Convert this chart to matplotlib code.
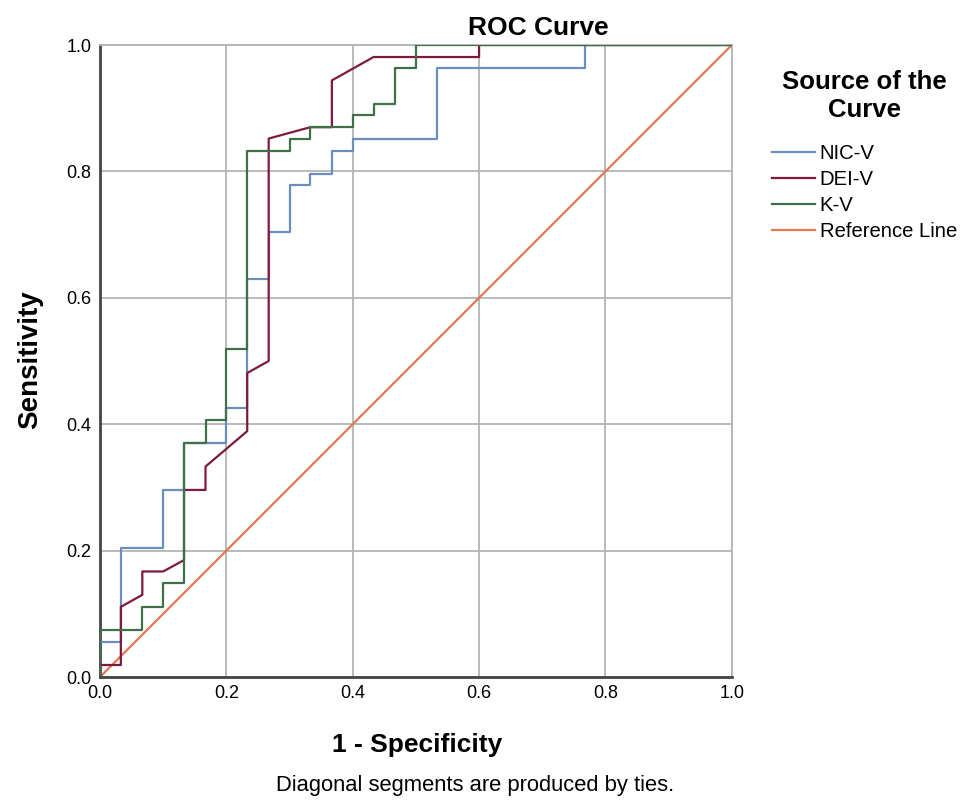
import matplotlib.pyplot as plt

plt.rcParams['font.family'] = ['Liberation Sans', 'DejaVu Sans']

# ROC curve vertices (1 - specificity, sensitivity)
nic_x = [0.0, 0.0, 0.033, 0.033, 0.1, 0.1, 0.133, 0.133, 0.2, 0.2, 0.233, 0.233,
         0.267, 0.267, 0.3, 0.3, 0.333, 0.333, 0.367, 0.367, 0.4, 0.4, 0.533,
         0.533, 0.767, 0.767, 1.0]
nic_y = [0.0, 0.056, 0.056, 0.204, 0.204, 0.296, 0.296, 0.37, 0.37, 0.426, 0.426, 0.63,
         0.63, 0.704, 0.704, 0.778, 0.778, 0.796, 0.796, 0.833, 0.833, 0.852, 0.852,
         0.963, 0.963, 1.0, 1.0]

dei_x = [0.0, 0.0, 0.033, 0.033, 0.067, 0.067, 0.1, 0.133, 0.133, 0.167, 0.167,
         0.233, 0.233, 0.267, 0.267, 0.333, 0.367, 0.367, 0.433, 0.6, 0.6, 1.0]
dei_y = [0.0, 0.019, 0.019, 0.111, 0.13, 0.167, 0.167, 0.185, 0.296, 0.296, 0.333,
         0.389, 0.481, 0.5, 0.852, 0.87, 0.87, 0.944, 0.981, 0.981, 1.0, 1.0]

kv_x = [0.0, 0.0, 0.067, 0.067, 0.1, 0.1, 0.133, 0.133, 0.167, 0.167, 0.2, 0.2,
        0.233, 0.233, 0.3, 0.3, 0.333, 0.333, 0.4, 0.4, 0.433, 0.433, 0.467,
        0.467, 0.5, 0.5, 1.0]
kv_y = [0.0, 0.074, 0.074, 0.111, 0.111, 0.148, 0.148, 0.37, 0.37, 0.407, 0.407,
        0.519, 0.519, 0.833, 0.833, 0.852, 0.852, 0.87, 0.87, 0.889, 0.889, 0.907,
        0.907, 0.963, 0.963, 1.0, 1.0]

ref_x = [0.0, 1.0]
ref_y = [0.0, 1.0]

ticks = [0.0, 0.2, 0.4, 0.6, 0.8, 1.0]

W, H = 968, 801
fig = plt.figure(figsize=(W / 100, H / 100), dpi=100)
ax = fig.add_axes([0.1033, 0.1548, 0.6527, 0.789])

ax.plot(nic_x, nic_y, color='#6b8fbd', lw=1.6, label='NIC-V', zorder=3)
ax.plot(dei_x, dei_y, color='#7d1a3e', lw=1.6, label='DEI-V', zorder=4)
ax.plot(kv_x, kv_y, color='#3f7048', lw=1.6, label='K-V', zorder=5)
ax.plot(ref_x, ref_y, color='#e07a52', lw=1.6, label='Reference Line', zorder=2)

ax.set_xlim(0, 1)
ax.set_ylim(0, 1)
ax.set_xticks(ticks)
ax.set_yticks(ticks)
ax.set_xticklabels(['%.1f' % t for t in ticks], fontsize=13)
ax.set_yticklabels(['%.1f' % t for t in ticks], fontsize=13)
ax.tick_params(length=0, pad=6)
ax.grid(True, color='#b4b4b4', lw=1.3)
ax.set_axisbelow(True)

for s in ['left', 'bottom']:
    ax.spines[s].set_color('#444444')
    ax.spines[s].set_linewidth(2)
for s in ['top', 'right']:
    ax.spines[s].set_color('#b4b4b4')
    ax.spines[s].set_linewidth(1.3)

# titles and labels placed in figure pixels
fig.text(538 / W, 1 - 35 / H, 'ROC Curve', fontsize=19, fontweight='bold',
         ha='center', va='baseline')
fig.text(417 / W, 1 - 745 / H, '1 - Specificity', fontsize=19, fontweight='bold',
         ha='center', va='center')
fig.text(30 / W, 1 - 360 / H, 'Sensitivity', fontsize=20, fontweight='bold',
         ha='center', va='center', rotation=90)
fig.text(475 / W, 1 - 785 / H, 'Diagonal segments are produced by ties.',
         fontsize=15.8, ha='center', va='center')

leg = fig.legend(loc='upper left', bbox_to_anchor=(762 / W, 1 - 60 / H),
                 frameon=False, borderpad=0, title='Source of the\nCurve',
                 fontsize=14.6, handlelength=2.1, handletextpad=0.25,
                 labelspacing=0.35,
                 title_fontproperties={'weight': 'bold', 'size': 18.5})
leg.get_title().set_multialignment('center')
leg._legend_box.sep = 16

fig.savefig('out.png', dpi=100)
